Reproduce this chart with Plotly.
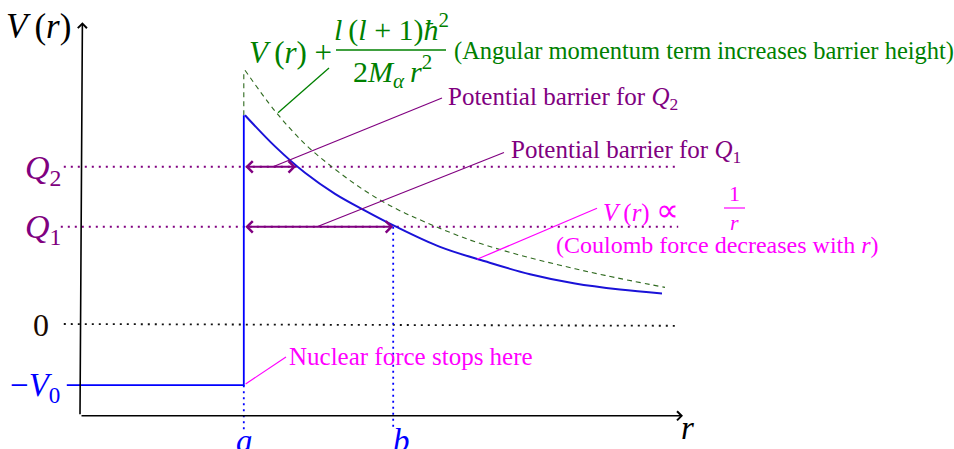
import plotly.graph_objects as go

# ---------------- data (diagram units) ----------------
A = 2.73          # nuclear radius a
B = 5.22          # classical turning point b for Q1
Q1 = 1.62
Q2 = 2.62
V0 = 1.02         # depth of well (-V0)
AXIS_Y_MIN = -1.53
AXIS_Y_MAX = 5.03
AXIS_X_MAX = 10.05
WELL_X_START = -0.22
GUIDE_X_START = -0.27
GUIDE_X_END = 9.97
TICK_Y_BOTTOM = -1.77

blue_r = [2.75, 3.25, 3.75, 4.25, 4.75, 5.25, 6.0, 6.75, 7.5, 8.25, 9.0, 9.7]
blue_v = [3.48, 2.96, 2.52, 2.17, 1.89, 1.63, 1.285, 1.045, 0.83, 0.675, 0.575, 0.51]

dash_r = [2.75, 3.25, 3.75, 4.25, 4.75, 5.25, 5.75, 6.5, 7.25, 8.0, 8.75, 9.75]
dash_v = [4.23, 3.55, 3.00, 2.58, 2.22, 1.93, 1.70, 1.40, 1.17, 0.98, 0.81, 0.61]

# ---------------- layout helpers (pixel -> diagram units) ----------------
S, OX, OY = 60.0, 80.0, 324.0
W, H = 954, 449
def X(p):
    return (p - OX) / S
def Y(p):
    return (OY - p) / S

FONT = "Liberation Serif"
BLUE = "#0000ff"
CURVE_BLUE = "#1a12d8"
PURPLE = "#800080"
MAGENTA = "#ff00ff"
GREEN = "#008000"
DGREEN = "#2f6a1f"

fig = go.Figure()

def line(xs, ys, color, width=1.2, dash=None, shape="linear"):
    fig.add_trace(go.Scatter(x=xs, y=ys, mode="lines",
                             line=dict(color=color, width=width, dash=dash, shape=shape),
                             hoverinfo="skip", showlegend=False))

# guide lines (dotted)
line([GUIDE_X_START, GUIDE_X_END], [Q2, Q2], PURPLE, 2, "2px,5px")
line([GUIDE_X_START - 0.05, GUIDE_X_END], [Q1, Q1], PURPLE, 2, "2px,5px")
line([GUIDE_X_START, GUIDE_X_END], [0, -0.03], "#111111", 1.8, "2px,5px")
line([A, A], [-V0, TICK_Y_BOTTOM], BLUE, 1.8, "2px,4px")
line([B, B], [Q1, TICK_Y_BOTTOM], BLUE, 1.8, "2px,4px")

# angular momentum barrier (dashed)
line([A, A], [blue_v[0], dash_v[0]], DGREEN, 1.1, "5px,4px")
line(dash_r, dash_v, DGREEN, 1.1, "5px,4px", "spline")

# well + coulomb barrier
line([WELL_X_START, A, A], [-V0, -V0, blue_v[0]], BLUE, 1.8)
line(blue_r, blue_v, CURVE_BLUE, 2, None, "spline")

# leader lines
line([X(329), X(278)], [Y(68), Y(112.7)], GREEN, 1.3)
line([X(273), X(442)], [Q2, Y(98)], PURPLE, 1.2)
line([X(317), X(504)], [Q1, Y(152.5)], PURPLE, 1.2)
line([X(477), X(597)], [Y(259.3), Y(208.3)], MAGENTA, 1.2)
line([A + 0.03, X(286)], [-V0 + 0.02, Y(357)], MAGENTA, 1.2)

annotations = []

def arrow(x0, y0, x1, y1, color, width, both=False):
    d = dict(x=x1, y=y1, ax=x0, ay=y0, xref="x", yref="y", axref="x", ayref="y",
             text="", showarrow=True, arrowhead=4, arrowsize=1.1, arrowwidth=width,
             arrowcolor=color, standoff=0)
    if both:
        d.update(arrowside="end+start", startarrowhead=4, startarrowsize=1.1, startstandoff=0)
    annotations.append(d)

# axes
arrow(0, AXIS_Y_MIN, 0.04, AXIS_Y_MAX, "black", 1.6)
arrow(0, AXIS_Y_MIN, AXIS_X_MAX, AXIS_Y_MIN, "black", 1.6)
# energy arrows
arrow(A, Q2, blue_r[0] + 0.85, Q2, PURPLE, 2, both=True)
arrow(A, Q1, B, Q1, PURPLE, 2, both=True)

def text(px, py, s, color, size, xanchor="left", yanchor="middle"):
    annotations.append(dict(x=X(px), y=Y(py), xref="x", yref="y", text=s, showarrow=False,
                            xanchor=xanchor, yanchor=yanchor,
                            font=dict(family=FONT, size=size, color=color)))

text(73, 26, "<i>V</i>\u2009(<i>r</i>)", "black", 35, "right")
text(63, 170, "<i>Q</i><sub>2</sub>", PURPLE, 34, "right")
text(63, 229, "<i>Q</i><sub>1</sub>", PURPLE, 34, "right")
text(51, 325, "0", "#1a0a00", 32, "right")
text(62, 387, "−<i>V</i><sub>0</sub>", BLUE, 33, "right")
text(244, 441, "<i>a</i>", BLUE, 33, "center")
text(401, 441, "<i>b</i>", BLUE, 33, "center")
text(687, 428, "<i>r</i>", "black", 33, "center")

# green formula
text(247, 52, "<i>V</i>\u2009(<i>r</i>) +", GREEN, 31)
text(391, 27, "<i>l</i>\u2009(<i>l</i> + 1)<i>ħ</i><sup>2</sup>", GREEN, 30, "center")
text(392, 71, "2<i>M</i><sub><i>α</i></sub>\u2009<i>r</i><sup>2</sup>", GREEN, 30, "center")
text(452, 51, "(Angular momentum term increases barrier height)", GREEN, 24.5)

text(446, 98, "Potential barrier for <i>Q</i><sub>2</sub>", PURPLE, 25)
text(509, 151, "Potential barrier for <i>Q</i><sub>1</sub>", PURPLE, 25)

text(601, 210, "<i>V</i>\u2009(<i>r</i>) <span style='font-size:32px'>∝</span>", MAGENTA, 25)
text(734, 193, "1", MAGENTA, 22, "center")
text(734, 222, "<i>r</i>", MAGENTA, 22, "center")
text(554, 245, "(Coulomb force decreases with <i>r</i>)", MAGENTA, 24)
text(287, 356, "Nuclear force stops here", MAGENTA, 25)

shapes = [
    dict(type="line", xref="x", yref="y", x0=X(336), x1=X(446), y0=Y(50), y1=Y(50),
         line=dict(color=GREEN, width=1.3)),
    dict(type="line", xref="x", yref="y", x0=X(724), x1=X(745), y0=Y(208), y1=Y(208),
         line=dict(color=MAGENTA, width=1.2)),
]

fig.update_layout(
    width=W, height=H,
    margin=dict(l=0, r=0, t=0, b=0),
    paper_bgcolor="white", plot_bgcolor="white",
    xaxis=dict(range=[X(0), X(W)], visible=False, fixedrange=True),
    yaxis=dict(range=[Y(H), Y(0)], visible=False, fixedrange=True),
    annotations=annotations, shapes=shapes,
    showlegend=False,
)

fig.write_html("out.html", config={"displayModeBar": False},
               post_script="document.body.style.margin='0';document.body.style.overflow='hidden';")
